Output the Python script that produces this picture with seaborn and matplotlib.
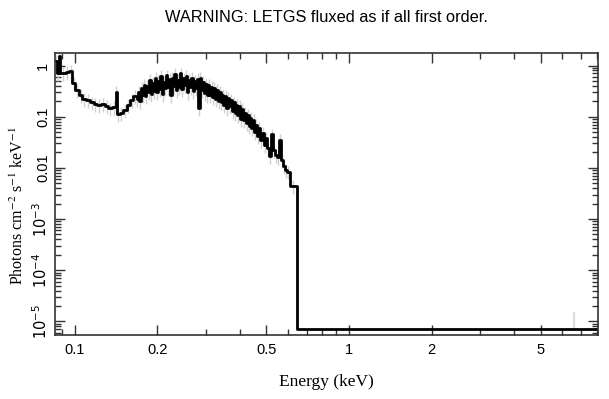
import numpy as np
import pandas as pd
import seaborn as sns
import matplotlib
matplotlib.use("Agg")
import matplotlib.pyplot as plt
from matplotlib.ticker import LogLocator, FixedLocator, FixedFormatter, NullFormatter


# -------------------------------
# Spectrum data (lower bin edges in keV, flux per bin)
# -------------------------------

# coarse low energy bins
low_edges = [0.0845, 0.0858, 0.0872, 0.0885, 0.0925, 0.0955, 0.0975, 0.1005,
             0.1035, 0.1065, 0.1100, 0.1135, 0.1170, 0.1205, 0.1245, 0.1285,
             0.1325, 0.1365, 0.1410, 0.1420, 0.1455, 0.1500, 0.1545, 0.1590,
             0.1635]
low_flux = [1.25, 0.70, 1.55, 0.72, 0.75, 0.78, 0.45, 0.33,
            0.27, 0.22, 0.21, 0.19, 0.18, 0.17, 0.18, 0.16,
            0.145, 0.155, 0.30, 0.115, 0.12, 0.135, 0.17, 0.21,
            0.25]

# dense middle bins
mid_edges = [0.1680, 0.1700, 0.1720, 0.1740, 0.1761, 0.1782, 0.1803, 0.1824, 0.1846, 0.1868,
             0.1890, 0.1912, 0.1935, 0.1958, 0.1981, 0.2004, 0.2028, 0.2052, 0.2076, 0.2101,
             0.2126, 0.2151, 0.2176, 0.2202, 0.2228, 0.2254, 0.2281, 0.2308, 0.2335, 0.2363,
             0.2391, 0.2419, 0.2448, 0.2477, 0.2506, 0.2536, 0.2566, 0.2596, 0.2627, 0.2658,
             0.2689, 0.2721, 0.2753, 0.2786, 0.2819, 0.2852, 0.2886, 0.2920, 0.2954, 0.2989,
             0.3025, 0.3060, 0.3097, 0.3133, 0.3170, 0.3208, 0.3246, 0.3284, 0.3323, 0.3362,
             0.3402, 0.3442, 0.3483, 0.3524, 0.3566, 0.3608, 0.3651, 0.3694, 0.3738, 0.3782,
             0.3827, 0.3872, 0.3918, 0.3964, 0.4011, 0.4058, 0.4106, 0.4155, 0.4204, 0.4253,
             0.4304, 0.4355, 0.4406, 0.4458, 0.4511, 0.4564,
             0.4618, 0.468, 0.475, 0.482, 0.489, 0.496, 0.504, 0.512,
             0.520, 0.529, 0.537, 0.546, 0.555, 0.564, 0.573, 0.582]
mid_flux = [0.22, 0.30, 0.20, 0.36, 0.26, 0.42, 0.25, 0.40, 0.30, 0.52,
            0.28, 0.45, 0.32, 0.58, 0.30, 0.50, 0.34, 0.62, 0.28, 0.48,
            0.36, 0.64, 0.38, 0.55, 0.26, 0.58, 0.40, 0.68, 0.33, 0.52,
            0.38, 0.70, 0.34, 0.56, 0.42, 0.62, 0.30, 0.52, 0.38, 0.57,
            0.32, 0.50, 0.36, 0.54, 0.15, 0.58, 0.33, 0.47, 0.29, 0.44,
            0.27, 0.42, 0.26, 0.38, 0.24, 0.36, 0.22, 0.33, 0.20, 0.30,
            0.19, 0.27, 0.17, 0.25, 0.15, 0.23, 0.16, 0.21, 0.13, 0.19,
            0.12, 0.17, 0.11, 0.16, 0.09, 0.14, 0.085, 0.12, 0.075, 0.11,
            0.065, 0.095, 0.06, 0.085, 0.05, 0.07,
            0.042, 0.060, 0.035, 0.048, 0.028, 0.038, 0.024, 0.017,
            0.045, 0.022, 0.018, 0.016, 0.035, 0.014, 0.011, 0.009]

# high energy tail
high_edges = [0.592, 0.609, 0.646]
high_flux = [0.0085, 0.0044, 7e-6]
last_edge = 8.1

# single visible error bar in the tail
tail_err_x = [6.6]
tail_err_lo = [7e-6]
tail_err_hi = [1.5e-5]

rel_err = 0.3


# -------------------------------
# Build step table
# -------------------------------

edges = low_edges + mid_edges + high_edges + [last_edge]
flux = low_flux + mid_flux + high_flux

df = pd.DataFrame({
    "Energy": edges,
    "Flux": flux + [flux[-1]]
})

centers = np.sqrt(np.array(edges[:-1]) * np.array(edges[1:]))
vals = np.array(flux)
has_err = vals > 1e-4


# -------------------------------
# Plot
# -------------------------------

sns.set_style("ticks")
plt.rcParams["font.family"] = ["Liberation Sans", "DejaVu Sans"]
plt.rcParams["text.color"] = "black"
plt.rcParams["axes.labelcolor"] = "black"

fig = plt.figure(figsize=(6.09, 3.99), dpi=100)
ax = fig.add_axes([0.090, 0.160, 0.892, 0.707])

# grey error bars
ax.vlines(centers[has_err], vals[has_err] * (1 - rel_err), vals[has_err] * (1 + rel_err),
          color="#d0d0d0", lw=1, zorder=1)
ax.vlines(tail_err_x, tail_err_lo, tail_err_hi, color="#dcdcdc", lw=1.5, zorder=1)

sns.lineplot(
    data=df,
    x="Energy",
    y="Flux",
    drawstyle="steps-post",
    estimator=None,
    sort=False,
    color="black",
    lw=2,
    ax=ax,
    zorder=2
)

ax.set_xscale("log")
ax.set_yscale("log")
ax.set_xlim(0.0845, 8.1)
ax.set_ylim(5.4e-6, 1.75)

# x ticks
ax.xaxis.set_major_locator(FixedLocator([0.1, 0.2, 0.5, 1, 2, 5]))
ax.xaxis.set_major_formatter(FixedFormatter(["0.1", "0.2", "0.5", "1", "2", "5"]))
ax.xaxis.set_minor_locator(FixedLocator([0.09, 0.3, 0.4, 0.6, 0.7, 0.8, 0.9,
                                         3, 4, 6, 7, 8]))
ax.xaxis.set_minor_formatter(NullFormatter())

# y ticks
ax.yaxis.set_major_locator(FixedLocator([1e-5, 1e-4, 1e-3, 1e-2, 1e-1, 1]))
ax.yaxis.set_major_formatter(FixedFormatter(["$10^{-5}$", "$10^{-4}$", "$10^{-3}$",
                                             "0.01", "0.1", "1"]))
ax.yaxis.set_minor_locator(LogLocator(base=10, subs=np.arange(2, 10), numticks=20))
ax.yaxis.set_minor_formatter(NullFormatter())

ax.tick_params(which="both", direction="in", top=True, right=True,
               color="#333333", labelsize=10.5, labelcolor="black")
ax.tick_params(which="major", length=7, width=1)
ax.tick_params(which="minor", length=4, width=1)
ax.tick_params(axis="x", pad=6)
for lab in ax.get_yticklabels():
    lab.set_rotation(90)
    lab.set_va("center")

for s in ax.spines.values():
    s.set_color("#333333")
    s.set_linewidth(1.2)

ax.set_xlabel("Energy (keV)", family=["Liberation Serif"], fontsize=12.5, labelpad=12)
ax.set_ylabel("Photons cm$^{-2}$ s$^{-1}$ keV$^{-1}$", family=["Liberation Serif"],
              math_fontfamily="stix", fontsize=11.5)
ax.yaxis.set_label_coords(-0.052, 0.46)

fig.text(0.536, 1 - 18 / 399, "WARNING: LETGS fluxed as if all first order.",
         ha="center", va="center", fontsize=11.8)

fig.savefig("out.png", dpi=100)
